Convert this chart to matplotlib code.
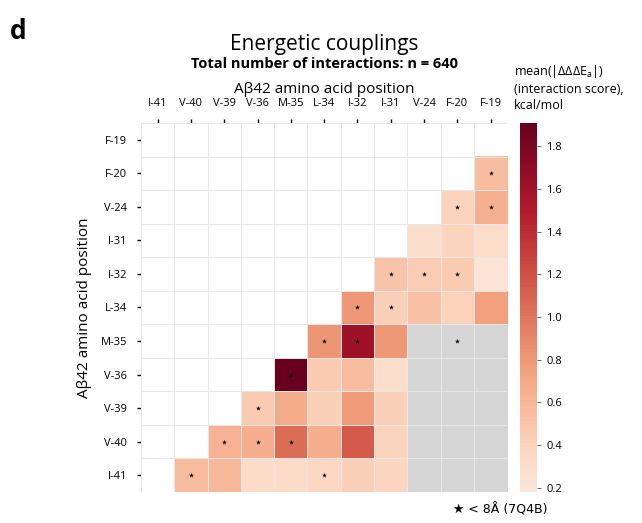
import numpy as np
import matplotlib.pyplot as plt
import matplotlib.colors as mcolors

plt.rcParams['font.family'] = ['Open Sans', 'DejaVu Sans']
plt.rcParams['mathtext.fontset'] = 'custom'
plt.rcParams['mathtext.rm'] = 'Open Sans'

residues_rows = ["F-19", "F-20", "V-24", "I-31", "I-32", "L-34", "M-35", "V-36", "V-39", "V-40", "I-41"]
residues_cols = ["I-41", "V-40", "V-39", "V-36", "M-35", "L-34", "I-32", "I-31", "V-24", "F-20", "F-19"]

nan = np.nan
# mean |ddE| per pair, nan = no value (white or grey)
scores = np.array([
    [nan, nan, nan, nan, nan, nan, nan, nan, nan, nan, nan],
    [nan, nan, nan, nan, nan, nan, nan, nan, nan, nan, 0.55],
    [nan, nan, nan, nan, nan, nan, nan, nan, nan, 0.40, 0.65],
    [nan, nan, nan, nan, nan, nan, nan, nan, 0.30, 0.38, 0.31],
    [nan, nan, nan, nan, nan, nan, nan, 0.50, 0.45, 0.47, 0.22],
    [nan, nan, nan, nan, nan, nan, 0.80, 0.42, 0.52, 0.40, 0.75],
    [nan, nan, nan, nan, nan, 0.82, 1.60, 0.80, nan, nan, nan],
    [nan, nan, nan, nan, 1.91, 0.47, 0.55, 0.30, nan, nan, nan],
    [nan, nan, nan, 0.47, 0.68, 0.42, 0.78, 0.42, nan, nan, nan],
    [nan, nan, 0.62, 0.66, 1.05, 0.66, 1.15, 0.38, nan, nan, nan],
    [nan, 0.57, 0.60, 0.32, 0.32, 0.36, 0.42, 0.37, nan, nan, nan],
])

grey_rows = ["M-35", "V-36", "V-39", "V-40", "I-41"]
grey_cols = ["V-24", "F-20", "F-19"]

# pairs closer than 8 A in 7Q4B (row, col)
close_pairs = [
    ("F-20", "F-19"), ("V-24", "F-20"), ("V-24", "F-19"),
    ("I-32", "I-31"), ("I-32", "V-24"), ("I-32", "F-20"),
    ("L-34", "I-32"), ("L-34", "I-31"),
    ("M-35", "L-34"), ("M-35", "I-32"), ("M-35", "F-20"),
    ("V-36", "M-35"), ("V-39", "V-36"),
    ("V-40", "V-39"), ("V-40", "V-36"), ("V-40", "M-35"),
    ("I-41", "V-40"), ("I-41", "L-34"),
]

cbar_ticks = [0.2, 0.4, 0.6, 0.8, 1.0, 1.2, 1.4, 1.6, 1.8]

base = plt.get_cmap("RdBu_r")
cmap = mcolors.LinearSegmentedColormap.from_list(
    "reds_half", base(np.linspace(0.56, 1.0, 256)))

fig = plt.figure(figsize=(6.42, 5.23), dpi=100)
ax = fig.add_axes([0.2196, 0.0593, 0.5705, 0.7055])
cax = fig.add_axes([0.810, 0.0593, 0.027, 0.7055])

n_r, n_c = len(residues_rows), len(residues_cols)
grey = np.full((n_r, n_c), np.nan)
for r in grey_rows:
    for c in grey_cols:
        grey[residues_rows.index(r), residues_cols.index(c)] = 1
ax.imshow(np.ma.masked_invalid(grey), cmap=mcolors.ListedColormap(["#d5d5d5"]),
          aspect="auto", interpolation="nearest")
im = ax.imshow(np.ma.masked_invalid(scores), cmap=cmap, vmin=0.18, vmax=1.91,
               aspect="auto", interpolation="nearest")

for i in range(n_r + 1):
    ax.axhline(i - 0.5, color="#e8e8e8", lw=0.7, zorder=3)
for j in range(n_c + 1):
    ax.axvline(j - 0.5, color="#e8e8e8", lw=0.7, zorder=3)

sx = [residues_cols.index(c) for r, c in close_pairs]
sy = [residues_rows.index(r) for r, c in close_pairs]
ax.scatter(sx, sy, marker="*", s=14, color="black", lw=0, zorder=4)

ax.set_xlim(-0.5, n_c - 0.5)
ax.set_ylim(n_r - 0.5, -0.5)
ax.set_xticks(range(n_c))
ax.set_xticklabels(residues_cols, fontsize=8)
ax.set_yticks(range(n_r))
ax.set_yticklabels(residues_rows, fontsize=8)
ax.xaxis.tick_top()
ax.tick_params(axis="x", length=3, width=1, pad=7)
ax.tick_params(axis="y", length=3, width=1, pad=7)
for s in ax.spines.values():
    s.set_visible(False)
ax.set_ylabel("A\u03b242 amino acid position", fontsize=11, labelpad=6)

cb = fig.colorbar(im, cax=cax, ticks=cbar_ticks)
cb.outline.set_visible(False)
cb.ax.tick_params(labelsize=8, length=3, width=0.6, color="#555555")
cb.ax.set_yticklabels([f"{t:.1f}" for t in cbar_ticks])

fig.text(0.015, 0.965, "d", fontsize=19, fontweight="bold", va="top")
fig.text(0.505, 0.915, "Energetic couplings", fontsize=15, ha="center", va="center")
fig.text(0.505, 0.877, "Total number of interactions: n = 640", fontsize=10.5,
         fontweight="bold", ha="center", va="center")
fig.text(0.505, 0.828, "A\u03b242 amino acid position", fontsize=11, ha="center", va="center")
fig.text(0.800, 0.785, "mean(|\u0394\u0394\u0394E$_\\mathregular{a}$|)\n(interaction score),\nkcal/mol",
         fontsize=9, ha="left", va="bottom", linespacing=1.3)
fig.text(0.705, 0.013, "\u2605 < 8\u00c5 (7Q4B)", fontsize=9, ha="left", va="bottom",
         family=["DejaVu Sans"])

fig.savefig("out.png", dpi=100)
